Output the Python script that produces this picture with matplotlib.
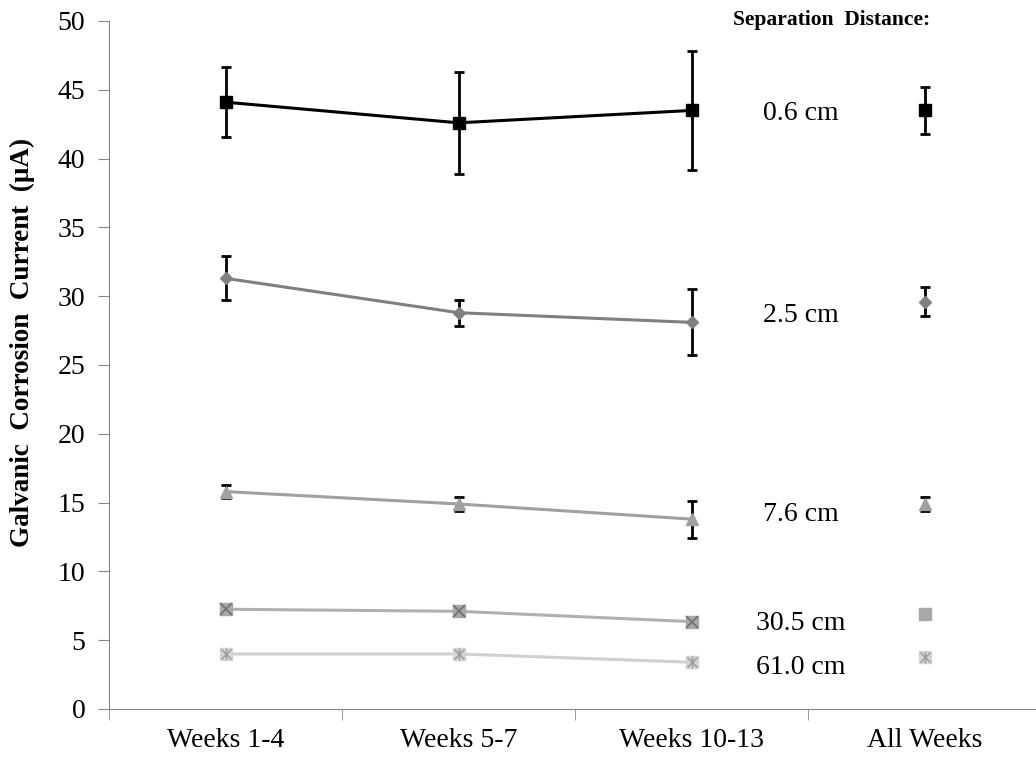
import matplotlib.pyplot as plt
import numpy as np

plt.rcParams['font.family'] = ['Liberation Serif', 'DejaVu Serif']

categories = ['Weeks 1-4', 'Weeks 5-7', 'Weeks 10-13', 'All Weeks']
distances = ['0.6 cm', '2.5 cm', '7.6 cm', '30.5 cm', '61.0 cm']

# mean current per period (first three), then the all-weeks mean
mean_06 = [44.1, 42.6, 43.5, 43.5]
mean_25 = [31.3, 28.8, 28.1, 29.6]
mean_76 = [15.8, 14.9, 13.8, 14.9]
mean_305 = [7.25, 7.1, 6.35, 6.9]
mean_610 = [4.0, 4.0, 3.4, 3.8]

# error bar half widths
err_06 = [2.55, 3.7, 4.3, 1.7]
err_25 = [1.6, 0.95, 2.4, 1.05]
err_76 = [0.5, 0.5, 1.35, 0.5]
err_305 = [0.0, 0.0, 0.3, 0.0]
err_610 = [0.0, 0.0, 0.0, 0.0]

# label position (y) for each distance
label_y = [43.3, 28.6, 14.1, 6.2, 3.0]

series = [mean_06, mean_25, mean_76, mean_305, mean_610]
errors = [err_06, err_25, err_76, err_305, err_610]
colors = ['#000000', '#808080', '#a0a0a0', '#b0b0b0', '#d0d0d0']
mfaces = ['#000000', '#808080', '#a0a0a0', '#a8a8a8', '#d4d4d4']
markers = ['s', 'D', '^', 's', 's']
msizes = [8, 6.5, 9, 8, 8]

fig = plt.figure(figsize=(10.36, 7.58), dpi=100)
ax = fig.add_axes([109 / 1036, 49 / 758, 932 / 1036, 688 / 758])

x = np.arange(len(categories))
for vals, errs, c, fc, m, ms in zip(series, errors, colors, mfaces, markers, msizes):
    ax.errorbar(x[:3], vals[:3], yerr=errs[:3], color=c, marker=m, markersize=ms,
                markerfacecolor=fc, markeredgecolor=fc,
                linewidth=2.2, ecolor='black', elinewidth=2, capsize=3.5, capthick=2, zorder=3)
    ax.errorbar(x[3], vals[3], yerr=errs[3], color=c, marker=m, markersize=ms,
                markerfacecolor=fc, markeredgecolor=fc,
                linestyle='none', ecolor='black', elinewidth=2, capsize=3.5, capthick=2, zorder=3)

# crosses drawn over the square markers of the two far series
ax.plot(x[:3], mean_305[:3], linestyle='none', marker='x', markersize=8,
        markeredgewidth=1.2, color='#707070', zorder=4)
ax.plot(x, mean_610, linestyle='none', marker='x', markersize=7,
        markeredgewidth=1, color='#9a9a9a', zorder=4)
ax.plot(x, mean_610, linestyle='none', marker='|', markersize=8,
        markeredgewidth=1, color='#9a9a9a', zorder=4)

for name, ly in zip(distances, label_y):
    ax.text(2.47, ly, name, ha='center', va='center', fontsize=20)

ax.text(2.60, 50.1, 'Separation  Distance:', ha='center', va='center',
        fontsize=15.5, fontweight='bold')

ax.set_xlim(-0.5, 3.5)
ax.set_ylim(0, 50)
ax.set_yticks(np.arange(0, 51, 5))
ax.set_xticks(x)
ax.set_xticklabels(categories, fontsize=20)
ax.set_xticks(np.arange(-0.5, 3.6, 1), minor=True)
ax.tick_params(axis='x', which='major', length=0, pad=14)
ax.tick_params(axis='x', which='minor', length=8, color='#888888')
ax.tick_params(axis='y', labelsize=20, length=8, color='#888888', pad=9)
ax.set_ylabel('Galvanic  Corrosion  Current  (μA)', fontsize=19.5, fontweight='bold')
ax.yaxis.set_label_coords(-0.079, 0.533)

for side in ['top', 'right']:
    ax.spines[side].set_visible(False)
for side in ['left', 'bottom']:
    ax.spines[side].set_color('#888888')

fig.savefig('out.png', dpi=100)
